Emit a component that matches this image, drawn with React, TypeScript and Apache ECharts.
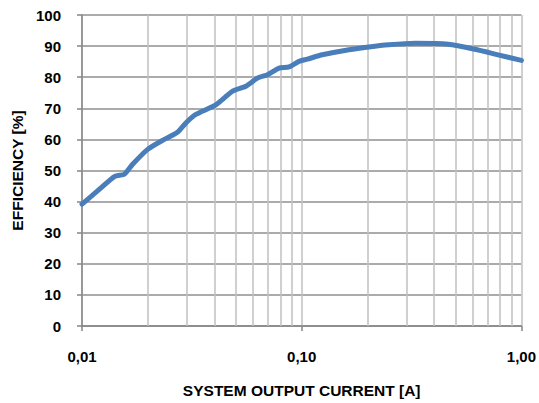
import React, { useEffect, useRef } from "react";
import * as echarts from "echarts";

const currentA = [0.01, 0.0118, 0.0141, 0.0156, 0.017, 0.0199, 0.0237, 0.0272, 0.0297, 0.0324, 0.0355, 0.0408, 0.0485, 0.0557, 0.0629, 0.0699, 0.0789, 0.0876, 0.0972, 0.106, 0.124, 0.164, 0.202, 0.249, 0.329, 0.465, 0.614, 0.783, 1.0];
const efficiency = [39.2, 43.5, 48.1, 48.8, 52.0, 56.8, 60.0, 62.3, 65.3, 67.7, 69.1, 71.2, 75.5, 77.1, 79.7, 80.8, 82.9, 83.3, 85.1, 85.8, 87.2, 88.8, 89.7, 90.4, 90.9, 90.6, 89.0, 87.2, 85.4];
const minorGridX = [0.02, 0.03, 0.04, 0.05, 0.06, 0.07, 0.08, 0.09, 0.2, 0.3, 0.4, 0.5, 0.6, 0.7, 0.8, 0.9];

const FONT = "'Liberation Sans', Arial, sans-serif";

export default function App() {
  const ref = useRef<HTMLDivElement>(null);
  useEffect(() => {
    if (!ref.current) return;
    const chart = echarts.init(ref.current, null, { renderer: "svg" });
    chart.setOption({
      animation: false,
      backgroundColor: "#ffffff",
      grid: { left: 82, right: 15.5, top: 15, bottom: 75.5, containLabel: false },
      xAxis: {
        type: "log",
        logBase: 10,
        min: 0.01,
        max: 1,
        name: "SYSTEM OUTPUT CURRENT [A]",
        nameLocation: "middle",
        nameGap: 56,
        nameTextStyle: { fontFamily: FONT, fontWeight: "bold", fontSize: 15.5, color: "#000" },
        axisLine: { show: true, lineStyle: { color: "#868686", width: 1.5 } },
        axisTick: { show: true, inside: false, length: 5, lineStyle: { color: "#868686", width: 1.5 } },
        axisLabel: {
          margin: 23,
          fontFamily: FONT,
          fontWeight: "bold",
          fontSize: 15,
          color: "#000",
          formatter: (v: number) => v.toFixed(2).replace(".", ","),
        },
        splitLine: { show: true, lineStyle: { color: "#c0c0c0", width: 1.5 } },
        minorTick: { show: false },
        minorSplitLine: { show: false },
      },
      yAxis: {
        type: "value",
        min: 0,
        max: 100,
        interval: 10,
        name: "EFFICIENCY [%]",
        nameLocation: "middle",
        nameGap: 56,
        nameRotate: 90,
        nameTextStyle: { fontFamily: FONT, fontWeight: "bold", fontSize: 15.5, color: "#000" },
        axisLine: { show: true, lineStyle: { color: "#868686", width: 1.5 } },
        axisTick: { show: true, inside: false, length: 5, lineStyle: { color: "#868686", width: 1.5 } },
        axisLabel: { margin: 21, fontFamily: FONT, fontWeight: "bold", fontSize: 15, color: "#000" },
        splitLine: { show: true, lineStyle: { color: "#8f8f8f", width: 1.5 } },
      },
      series: [
        {
          type: "line",
          data: [],
          silent: true,
          z: 1,
          markLine: {
            silent: true,
            symbol: ["none", "none"],
            label: { show: false },
            animation: false,
            lineStyle: { type: "solid", color: "#c0c0c0", width: 1.5 },
            data: minorGridX.map((x) => ({ xAxis: x })),
          },
        },
        {
          type: "line",
          z: 5,
          data: currentA.map((x, i) => [x, efficiency[i]]),
          showSymbol: false,
          symbol: "none",
          smooth: 0.2,
          lineStyle: { color: "#4a7ebb", width: 5, cap: "round", join: "round" },
        },
      ],
    });
    return () => chart.dispose();
  }, []);
  return <div ref={ref} style={{ position: "fixed", left: 0, top: 0, width: 539, height: 403 }} />;
}
